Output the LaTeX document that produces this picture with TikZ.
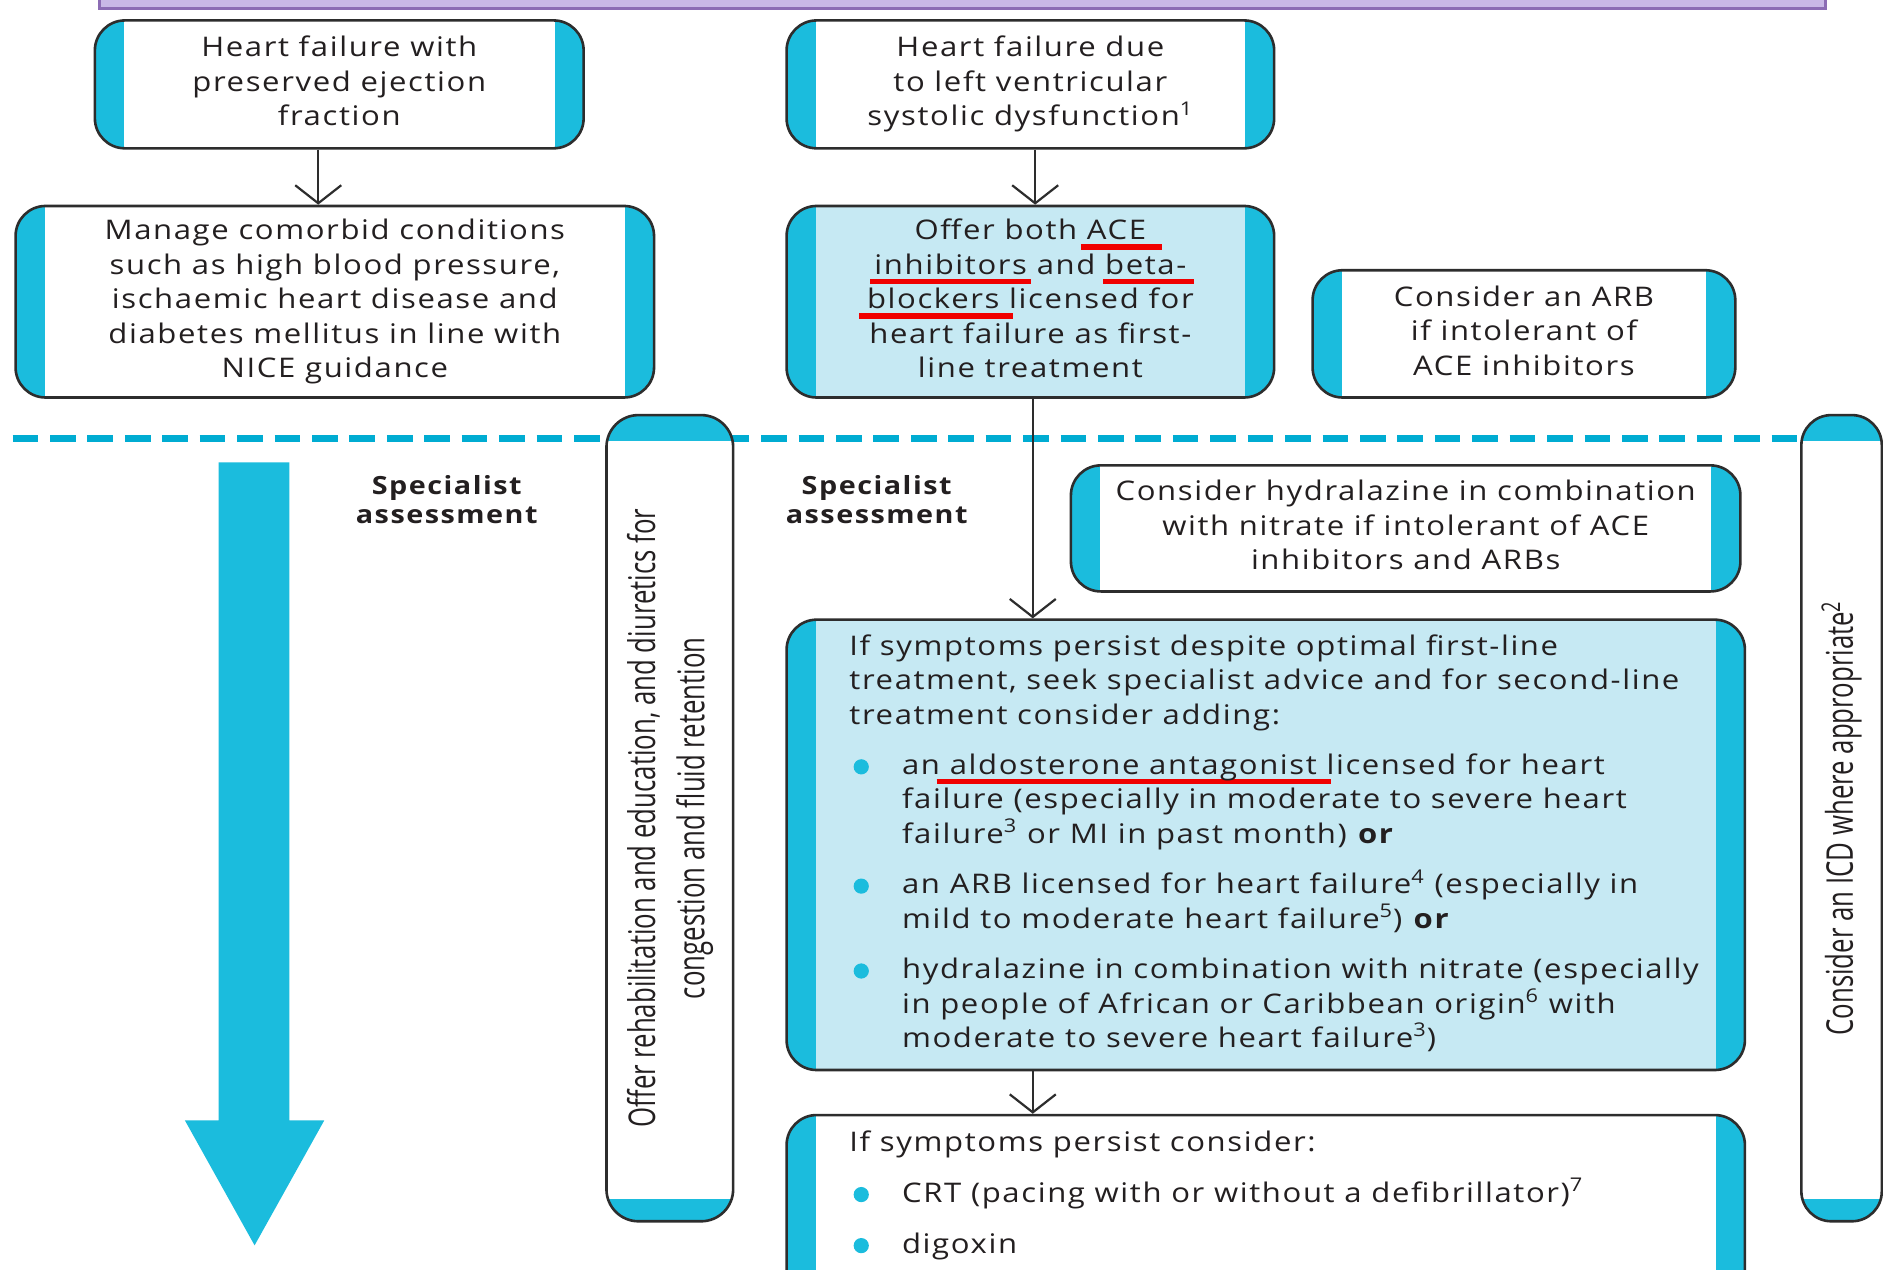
\documentclass[tikz,border=0pt]{standalone}
\usepackage{fontspec}
\usepackage{graphicx}
\setmainfont[FakeStretch=1.15,LetterSpace=6]{Open Sans}
\newfontfamily\condfont[FakeStretch=0.7]{Open Sans}
\usetikzlibrary{arrows.meta}
\pgfdeclarelayer{bg}
\pgfsetlayers{bg,main}

\definecolor{cyanbar}{RGB}{27,188,221}
\definecolor{dashcyan}{RGB}{0,172,210}
\definecolor{lightblue}{RGB}{198,233,243}
\definecolor{purplefill}{RGB}{201,184,230}
\definecolor{purpleline}{RGB}{140,108,180}
\definecolor{boxline}{RGB}{45,45,45}
\definecolor{txt}{RGB}{35,31,32}
\definecolor{ulred}{RGB}{240,0,0}

\newcommand\boxfont{\fontsize{13.5}{17.2}\selectfont}
\newcommand\rotfont{\condfont\fontsize{18.4}{24.6}\selectfont}
\newcommand\redul[3]{\setbox0=\hbox{#3}\rlap{\kern-#1\textcolor{ulred}{\rule[-5pt]{\dimexpr\wd0+#1+#2\relax}{2.8pt}}}\box0\relax}
\newcommand\bul{\makebox[26.3pt][l]{\hspace{2.1pt}\tikz[baseline=0pt]\fill[cyanbar] (0,0) ++(3.8pt,3.8pt) circle[radius=3.8pt];}}
\newcommand\ind{\hspace*{26.3pt}}
\newcommand\up[1]{\raisebox{1.5pt}{\begin{tabular}{@{}c@{}}#1\end{tabular}}}

\begin{document}
\begin{tikzpicture}[x=0.6pt,y=-0.6pt,
  hfbox/.style={draw=boxline, line width=1.3pt, rounded corners=15pt, fill=#1,
    align=center, inner sep=0pt, font=\boxfont, text=txt,
    path picture={
      \fill[cyanbar, sharp corners] (path picture bounding box.south west) rectangle ([xshift=14.5pt]path picture bounding box.north west);
      \fill[cyanbar, sharp corners] (path picture bounding box.south east) rectangle ([xshift=-14.5pt]path picture bounding box.north east);}},
  hfbox/.default=white,
  pill/.style={draw=boxline, line width=1.3pt, rounded corners=#1, fill=white,
    inner sep=0pt, text=txt, font=\rotfont,
    path picture={
      \fill[cyanbar, sharp corners] (path picture bounding box.north west) rectangle ([yshift=-13pt]path picture bounding box.north east);
      \fill[cyanbar, sharp corners] (path picture bounding box.south west) rectangle ([yshift=11pt]path picture bounding box.south east);}},
  arr/.style={draw=boxline, line width=1.1pt, -{Straight Barb[length=9pt,width=23pt,line width=1.1pt]}},
  spec/.style={font=\fontsize{12.5}{14.4}\selectfont\bfseries, align=center, text=txt},
  para/.style={anchor=north west, align=left, inner sep=0pt, font=\boxfont, text=txt}
]
\useasboundingbox (0,0) rectangle (1568,1057);
\fill[white] (0,0) rectangle (1568,1057);
\clip (0,0) rectangle (1568,1057);

% dashed separator
\draw[dashcyan, line width=3.8pt, dash pattern=on 12.8pt off 5.9pt] (10.5,365) -- (1500,365);

% big downward arrow
\fill[cyanbar] (182,385) -- (241,385) -- (241,933) -- (270,933) -- (212,1037) -- (154,933) -- (182,933) -- cycle;

% top purple box
\node[draw=purpleline, line width=1.5pt, fill=purplefill, minimum width=862.2pt, minimum height=22.3pt, inner sep=0pt] (P) at (801.5,-11.4) {};

% boxes
\node[hfbox, minimum width=244.2pt, minimum height=63.9pt] (A) at (282.5,70.25)
  {\up{Heart failure with\\preserved ejection\\fraction}};
\node[hfbox, minimum width=243.6pt, minimum height=63.9pt] (B) at (858,70.25)
  {\up{Heart failure due\\to left ventricular\\systolic dysfunction\textsuperscript{1}}};
\node[hfbox, minimum width=319pt, minimum height=95.7pt] (C) at (278.8,251.25)
  {Manage comorbid conditions\\such as high blood pressure,\\ischaemic heart disease and\\diabetes mellitus in line with\\NICE guidance};
\node[hfbox=lightblue, minimum width=243.6pt, minimum height=95.7pt] (D) at (858,251.25)
  {\up{Offer both \redul{3pt}{8pt}{ACE}\\\redul{2pt}{2pt}{inhibitors} and \redul{1pt}{4pt}{beta-}\\\redul{4pt}{7pt}{blockers} licensed for\\heart failure as first-\\line treatment}};
\node[hfbox, minimum width=211.2pt, minimum height=63.6pt] (E) at (1269,278)
  {\up{Consider an ARB\\if intolerant of\\ACE inhibitors}};
\node[hfbox, minimum width=334.5pt, minimum height=63pt] (G) at (1170.5,440)
  {\up{Consider hydralazine in combination\\with nitrate if intolerant of ACE\\inhibitors and ARBs}};
\node[hfbox=lightblue, minimum width=478.8pt, minimum height=225pt] (H) at (1054,703.5) {};
\node[hfbox, minimum width=478.8pt, minimum height=102.9pt] (I) at (1054,1014.25) {};

% vertical pills
\node[pill=16pt, minimum width=63.3pt, minimum height=402.8pt] (F) at (557.75,681.3)
  {\rotatebox{90}{\begin{tabular}{@{}c@{}}Offer rehabilitation and education, and diuretics for\\congestion and fluid retention\end{tabular}}};
\node[pill=15pt, minimum width=40.2pt, minimum height=402.8pt] (J) at (1533.5,681.3)
  {\rotatebox{90}{Consider an ICD where appropriate\textsuperscript{2}}};

% labels
\node[spec] (S1) at (372,416) {Specialist\\assessment};
\node[spec] (S2) at (730,416) {Specialist\\assessment};

% box texts
\node[para] (Htext) at (707,528) {If symptoms persist despite optimal first-line\\
treatment, seek specialist advice and for second-line\\
treatment consider adding:\\[8pt]
\bul an \redul{6.6pt}{7pt}{aldosterone antagonist} licensed for heart\\
\ind failure (especially in moderate to severe heart\\
\ind failure\textsuperscript{3} or MI in past month) \textbf{or}\\[8pt]
\bul an ARB licensed for heart failure\textsuperscript{4} (especially in\\
\ind mild to moderate heart failure\textsuperscript{5}) \textbf{or}\\[8pt]
\bul hydralazine in combination with nitrate (especially\\
\ind in people of African or Caribbean origin\textsuperscript{6} with\\
\ind moderate to severe heart failure\textsuperscript{3})};
\node[para] (Itext) at (707,941) {If symptoms persist consider:\\[8.3pt]
\bul CRT (pacing with or without a defibrillator)\textsuperscript{7}\\[8.3pt]
\bul digoxin};

% connectors
\begin{pgfonlayer}{bg}
\draw[arr] (P.south -| 271,0) -- (A.north -| 271,0);
\draw[arr] (P.south -| 864,0) -- (B.north -| 864,0);
\end{pgfonlayer}
\draw[arr] (A.south -| 265,0) -- (C.north -| 265,0);
\draw[arr] (B.south -| 862,0) -- (D.north -| 862,0);
\draw[arr] (D.south -| 860,0) -- (H.north -| 860,0);
\draw[arr] (H.south -| 860,0) -- (I.north -| 860,0);
\end{tikzpicture}
\end{document}
